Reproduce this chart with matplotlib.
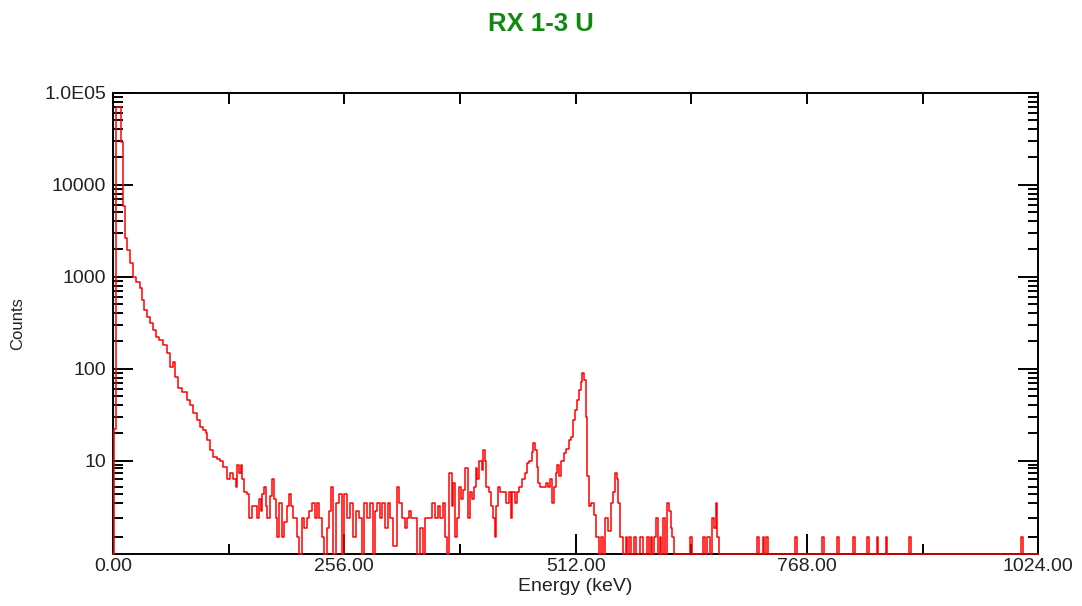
import numpy as np
import matplotlib
matplotlib.use("Agg")
import matplotlib.pyplot as plt
from matplotlib.ticker import FixedLocator, FixedFormatter, NullFormatter

plt.rcParams["font.family"] = ["Liberation Sans", "DejaVu Sans"]

# Spectrum, 0-567 keV: (energy, counts) read channel by channel
energy_kev = [
    0.0, 2.2, 5.5, 7.7, 10.5, 12.7, 14.9, 16.6, 20.7, 23.2, 27.7, 31.8, 33.5, 36.2,
    39.1, 42.8, 46.5, 49.0, 53.9, 57.5, 61.2, 65.0, 67.5, 70.5, 74.1, 79.7, 83.3,
    87.1, 90.7, 94.4, 98.2, 101.8, 103.7, 105.5, 109.2, 112.9, 116.5, 120.3, 123.9,
    127.6, 131.4, 135.0, 136.9, 138.7, 140.5, 142.4, 144.2, 146.1, 149.7, 152.4,
    155.3, 159.0, 160.8, 162.7, 164.6, 166.3, 168.2, 170.1, 171.9, 175.6, 176.7,
    179.3, 181.2, 182.9, 185.6, 188.5, 190.3, 194.0, 195.9, 197.8, 201.4, 205.1,
    207.7, 210.6, 212.5, 216.1, 218.0, 221.7, 224.7, 226.1, 229.1, 232.7, 234.6,
    238.3, 240.1, 242.7, 244.6, 248.2, 251.2, 254.9, 256.8, 260.4, 264.2, 267.8,
    269.7, 274.1, 277.0, 278.9, 282.5, 286.3, 288.8, 291.8, 293.6, 297.4, 299.1,
    302.9, 305.8, 308.4, 312.1, 315.7, 318.4, 321.3, 324.3, 326.8, 328.7, 331.7,
    334.2, 337.9, 341.6, 344.5, 347.2, 350.8, 354.5, 358.2, 361.1, 363.8, 366.3,
    368.5, 371.1, 373.7, 375.9, 377.4, 379.6, 382.1, 384.0, 386.6, 388.8, 391.4,
    394.0, 395.9, 398.1, 400.6, 402.5, 404.3, 406.9, 409.1, 410.6, 412.0, 414.2,
    417.2, 419.8, 421.6, 423.1, 424.6, 427.2, 430.2, 433.8, 436.4, 439.4, 441.2,
    443.0, 446.0, 448.5, 451.2, 454.1, 457.1, 459.6, 462.3, 464.5, 466.2, 468.1,
    469.6, 471.8, 474.4, 478.1, 480.6, 482.8, 485.5, 487.3, 489.2, 491.0, 492.8,
    494.7, 497.7, 500.2, 502.8, 505.8, 508.7, 510.2, 512.4, 514.9, 516.8, 518.7,
    520.5, 522.4, 524.2, 525.3, 527.9, 530.9, 533.4, 536.0, 539.0, 541.9, 543.4,
    546.4, 549.3, 551.9, 554.4, 556.7, 558.5, 560.3, 563.0, 566.6,
]
counts = [
    0, 22, 70000, 70000, 29300, 5940, 2620, 1940, 1400, 990, 875, 755, 560, 435,
    364, 314, 263, 220, 205, 180, 148, 104, 118, 81, 62, 56, 45.6,
    40, 32.7, 27.7, 23.4, 21.5, 20, 16.8, 13.1, 11, 10.5, 10, 8.5,
    6, 7, 6, 5, 9, 7, 9, 6, 4.2, 4, 2,
    2.8, 2.8, 2, 3.5, 2.5, 4, 5, 2.8, 2, 3.8, 6,
    3.5, 2, 1, 3, 1, 1.8, 2.8, 4, 2.8, 2, 1,
    0, 2, 1.5, 2, 2.5, 3, 2, 3, 2, 1, 0,
    1.5, 2.5, 5, 0, 3, 4, 0, 4, 2, 3, 1,
    2.5, 2, 0, 3, 2, 3, 0, 2.5, 3, 2, 3,
    1.5, 3, 2, 0.5, 5, 3, 2, 1.5, 2, 2.5, 2,
    2, 0, 1.5, 0, 2, 2, 3, 2, 2.8, 2, 3,
    1, 0, 7, 2.8, 5.5, 1, 2, 5, 3.5, 4.6, 8,
    2, 4.2, 3.5, 5, 8, 6, 10, 7.6, 13.1, 10, 5,
    4.2, 2.8, 2, 1, 2.8, 5, 4.3, 4.2, 3, 4.3, 2,
    4.3, 3, 4.3, 5, 6, 7, 9.5, 10, 12.5, 15.5, 13.1,
    8.5, 5.5, 5, 5, 5.5, 5, 6, 3, 5, 7, 9,
    6.5, 10, 12, 13.5, 16.8, 18.2, 27.7, 35.5, 45.6, 58.7, 72,
    90.5, 75, 30, 6.5, 2.8, 3, 2.2, 1, 0, 1, 0,
    2, 1.3, 3, 4.2, 7, 6, 3, 1, 0,
]

# Sparse tail above 567 keV: 2 keV channels, empty except these
tail_hit_kev = [
    568, 572, 578, 584, 586, 592, 596, 600, 602, 606, 610, 614, 616, 618, 620,
    640, 654, 658, 660, 664, 666, 668, 670, 714, 720, 724, 756, 786, 802,
    820, 836, 846, 856, 882, 1006,
]
tail_hit_counts = [
    1, 1, 1, 1, 1, 1, 1, 1, 2, 1, 2, 3, 2.5, 1.5, 1,
    1, 1, 1, 1, 2, 1.5, 3, 1, 1, 1, 1, 1, 1, 1,
    1, 1, 1, 1, 1, 1,
]

x_major = [0, 256, 512, 768, 1024]
x_major_labels = ["0.00", "256.00", "512.00", "768.00", "1024.00"]
x_minor = [128, 384, 640, 896]
y_major = [10, 100, 1000, 10000, 100000]
y_major_labels = ["10", "100", "1000", "10000", "1.0E05"]

# The count axis is logarithmic above 10; the lowest decade is squeezed
# so that an empty channel lands on the bottom edge.
LOW_COUNTS = np.arange(11.0)
LOW_DECADES = np.array([-0.014, 0.169, 0.375, 0.538, 0.639, 0.718,
                        0.798, 0.863, 0.918, 0.953, 1.0])


def counts_to_axis(v):
    v = np.asarray(v, dtype=float)
    low = np.interp(v, LOW_COUNTS, LOW_DECADES)
    high = np.log10(np.clip(v, 10.0, None))
    return np.where(v > 10.0, high, low)


def axis_to_counts(p):
    p = np.asarray(p, dtype=float)
    low = np.interp(p, LOW_DECADES, LOW_COUNTS)
    high = 10.0 ** np.clip(p, 1.0, 8.0)
    return np.where(p > 1.0, high, low)


tail_energy = np.arange(568.0, 1024.0 + 1.0, 2.0)
tail_counts = np.zeros_like(tail_energy)
for e, c in zip(tail_hit_kev, tail_hit_counts):
    tail_counts[np.argmin(np.abs(tail_energy - e))] = c

spec_e = np.concatenate([np.asarray(energy_kev, float), tail_energy])
spec_c = np.concatenate([np.asarray(counts, float), tail_counts])

fig = plt.figure(figsize=(10.82, 6.06), dpi=100)
ax = fig.add_axes([0.1044, 0.0858, 0.8552, 0.7612])

ax.set_yscale("function", functions=(counts_to_axis, axis_to_counts))
ax.plot(spec_e, spec_c, color="#ff0000", lw=1.1, drawstyle="steps-mid",
        clip_on=False, zorder=3)

ax.set_xlim(0, 1024)
ax.set_ylim(0, 100000)

ax.xaxis.set_major_locator(FixedLocator(x_major))
ax.xaxis.set_major_formatter(FixedFormatter(x_major_labels))
ax.xaxis.set_minor_locator(FixedLocator(x_minor))
ax.xaxis.set_minor_formatter(NullFormatter())

y_minor = [m * d for d in (1, 10, 100, 1000, 10000) for m in range(2 if d > 1 else 1, 10)]
ax.yaxis.set_major_locator(FixedLocator(y_major))
ax.yaxis.set_major_formatter(FixedFormatter(y_major_labels))
ax.yaxis.set_minor_locator(FixedLocator(y_minor))
ax.yaxis.set_minor_formatter(NullFormatter())

for sp in ax.spines.values():
    sp.set_linewidth(1.4)
    sp.set_color("black")

ax.tick_params(which="both", direction="in", top=True, right=True,
               width=1.4, colors="black", labelsize=14, labelcolor="#222222")
ax.tick_params(which="major", length=14.5)
ax.tick_params(which="minor", length=7)
ax.tick_params(axis="y", pad=5)
ax.tick_params(axis="x", pad=3)

# ticks along the top edge are all short
for t in ax.xaxis.get_major_ticks():
    t.tick2line.set_markersize(8)
for t in ax.xaxis.get_minor_ticks():
    t.tick2line.set_markersize(8)

ax.set_xlabel("Energy (keV)", fontsize=14, color="#222222", labelpad=2)
ax.set_ylabel("Counts", fontsize=12, color="#222222", labelpad=14)

fig.text(0.5, 0.960, "RX 1-3 U", ha="center", va="center", fontsize=18.5,
         fontweight="bold", color="#118811")

fig.savefig("out.png", dpi=100)
